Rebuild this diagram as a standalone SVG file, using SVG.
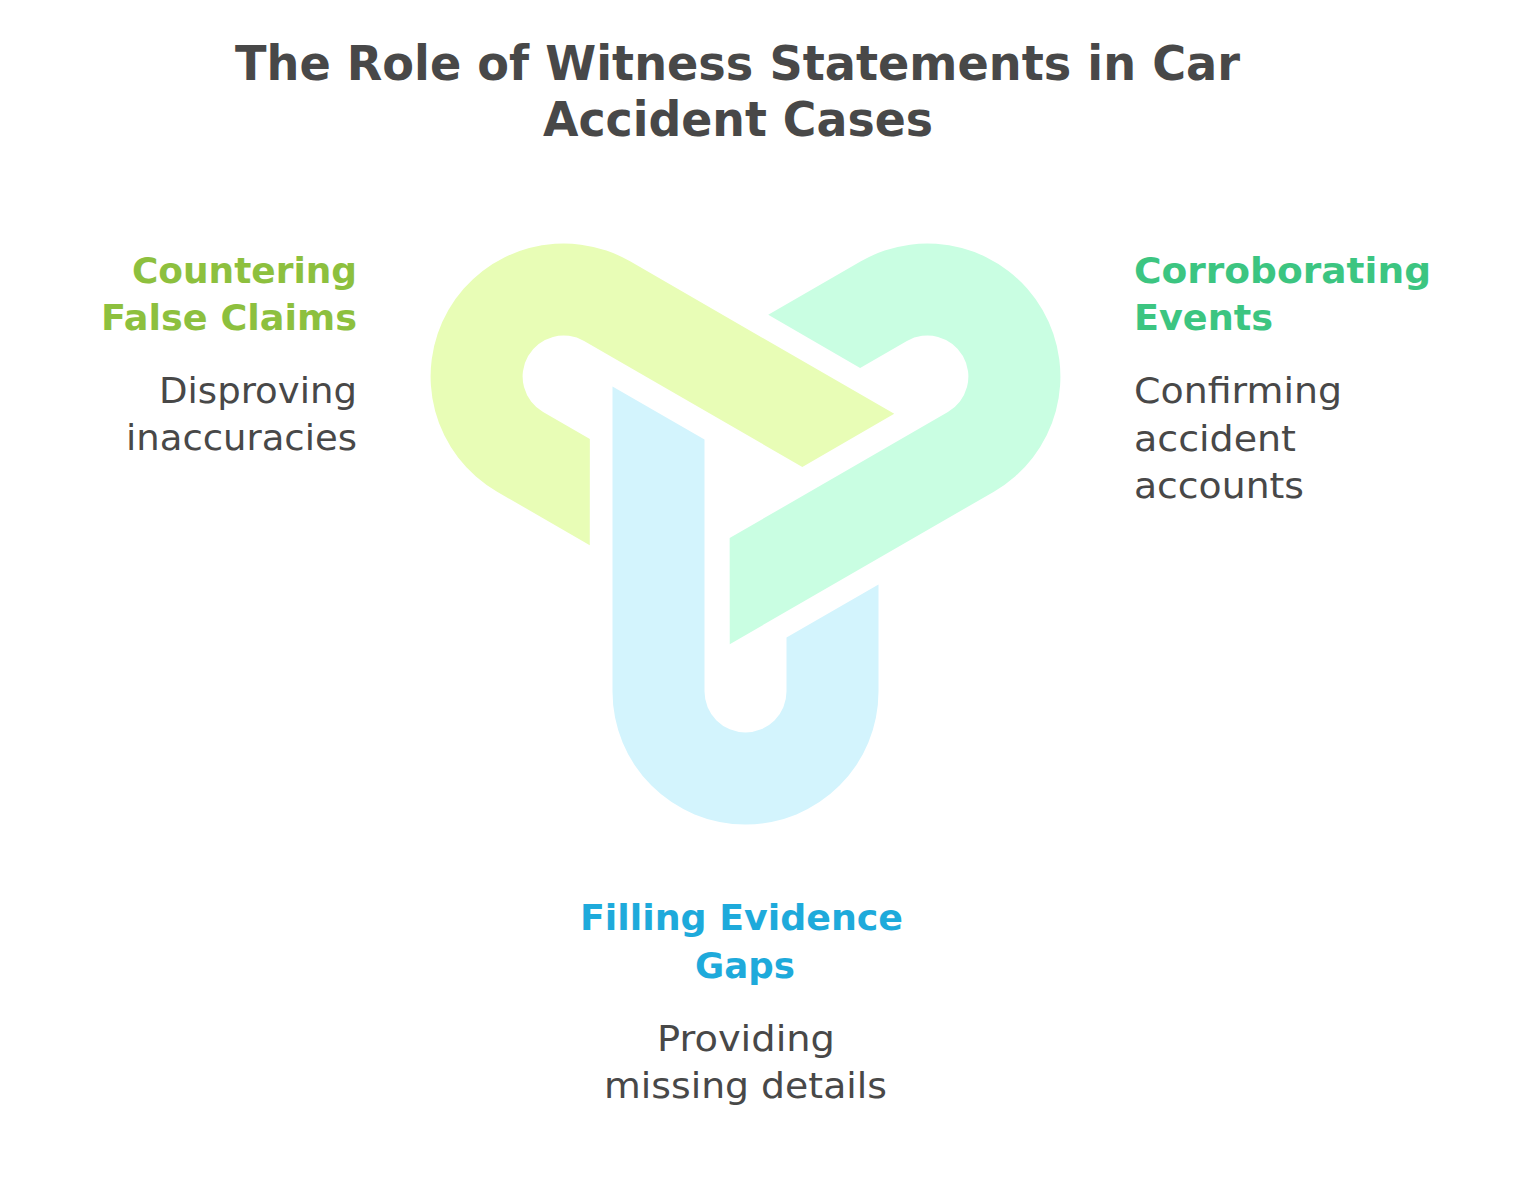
<svg xmlns="http://www.w3.org/2000/svg" width="1516" height="1204" viewBox="0 0 1516 1204">
  <defs>
    <path id="link" d="M0,-133 L305,-133 L252,-41 L0,-41 A41,41 0 0 0 0,41 L54,41 L107,133 L0,133 A133,133 0 0 1 0,-133 Z"/>
    <style>
      .title{font-family:"DejaVu Sans","Liberation Sans",sans-serif;font-weight:bold;font-size:48px;fill:#484848;text-anchor:middle}
      .head{font-family:"DejaVu Sans","Liberation Sans",sans-serif;font-weight:bold;font-size:35px}
      .body{font-family:"DejaVu Sans","Liberation Sans",sans-serif;font-size:35px;fill:#484848}
      .yel{fill:#8DC03E}
      .grn{fill:#3CC581}
      .blu{fill:#1EAADB}
      .end{text-anchor:end}
      .mid{text-anchor:middle}
    </style>
  </defs>
  <rect width="1516" height="1204" fill="#FFFFFF"/>
  <g id="title">
    <text class="title" x="737.5" y="80" textLength="1005" lengthAdjust="spacingAndGlyphs">The Role of Witness Statements in Car</text>
    <text class="title" x="738" y="136" textLength="390" lengthAdjust="spacingAndGlyphs">Accident Cases</text>
  </g>
  <g id="shapes">
    <g id="shape-countering"><use href="#link" fill="#E8FDB6" transform="translate(563.6,376.5) rotate(30)"/></g>
    <g id="shape-corroborating"><use href="#link" fill="#C9FEE2" transform="translate(927.4,376.5) rotate(150)"/></g>
    <g id="shape-filling"><use href="#link" fill="#D3F4FD" transform="translate(745.5,691.5) rotate(270)"/></g>
  </g>
  <g id="node-countering">
    <text class="head yel end" x="357" y="283" textLength="225" lengthAdjust="spacingAndGlyphs">Countering</text>
    <text class="head yel end" x="357" y="330" textLength="256" lengthAdjust="spacingAndGlyphs">False Claims</text>
    <text class="body end" x="357" y="403" textLength="198" lengthAdjust="spacingAndGlyphs">Disproving</text>
    <text class="body end" x="357" y="450" textLength="231" lengthAdjust="spacingAndGlyphs">inaccuracies</text>
  </g>
  <g id="node-corroborating">
    <text class="head grn" x="1134" y="283" textLength="297" lengthAdjust="spacingAndGlyphs">Corroborating</text>
    <text class="head grn" x="1134" y="330" textLength="139" lengthAdjust="spacingAndGlyphs">Events</text>
    <text class="body" x="1134" y="403" textLength="208" lengthAdjust="spacingAndGlyphs">Confirming</text>
    <text class="body" x="1134" y="451" textLength="162" lengthAdjust="spacingAndGlyphs">accident</text>
    <text class="body" x="1134" y="498" textLength="170" lengthAdjust="spacingAndGlyphs">accounts</text>
  </g>
  <g id="node-filling">
    <text class="head blu mid" x="741.5" y="930" textLength="323" lengthAdjust="spacingAndGlyphs">Filling Evidence</text>
    <text class="head blu mid" x="745" y="978" textLength="100" lengthAdjust="spacingAndGlyphs">Gaps</text>
    <text class="body mid" x="746" y="1051" textLength="178" lengthAdjust="spacingAndGlyphs">Providing</text>
    <text class="body mid" x="745.5" y="1098" textLength="283" lengthAdjust="spacingAndGlyphs">missing details</text>
  </g>
  <g id="connectors"></g>
</svg>
